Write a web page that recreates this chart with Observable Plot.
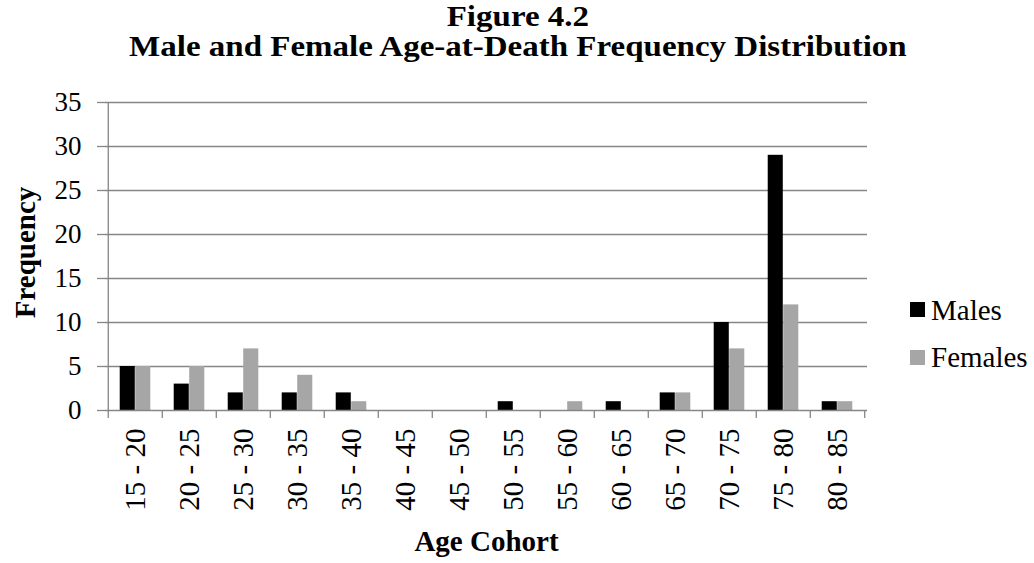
<!DOCTYPE html>
<html>
<head>
<meta charset="utf-8">
<script src="https://cdn.jsdelivr.net/npm/d3@7"></script>
<script src="https://cdn.jsdelivr.net/npm/@observablehq/plot@0.6"></script>
<style>
  body { margin: 0; background: #fff; }
  #wrap { position: relative; width: 1034px; height: 563px; font-family: "Liberation Serif", "Times New Roman", serif; }
  #wrap svg { position: absolute; left: 0; top: 0; }
  .title { position: absolute; left: 0; width: 1034px; text-align: center; font-weight: bold; font-size: 30px; line-height: 30px; color: #000; white-space: nowrap; transform: scaleX(1.1); transform-origin: 508px 0; }
  .legtxt { position: absolute; font-size: 29px; line-height: 29px; color: #000; white-space: nowrap; }
  .sw { position: absolute; width: 15px; height: 15px; }
</style>
</head>
<body>
<div id="wrap">
  <div class="title" style="top:1px">Figure 4.2</div>
  <div class="title" style="top:31px">Male and Female Age-at-Death Frequency Distribution</div>
  <div class="sw" style="left:910px; top:302px; background:#000"></div>
  <div class="legtxt" style="left:931px; top:296px">Males</div>
  <div class="sw" style="left:910px; top:350px; background:#a6a6a6"></div>
  <div class="legtxt" style="left:931px; top:343px">Females</div>
</div>
<script>
const categories = ["15 - 20","20 - 25","25 - 30","30 - 35","35 - 40","40 - 45","45 - 50","50 - 55","55 - 60","60 - 65","65 - 70","70 - 75","75 - 80","80 - 85"];
const males   = [5, 3, 2, 2, 2, 0, 0, 1, 0, 1, 2, 10, 29, 1];
const females = [5, 5, 7, 4, 1, 0, 0, 0, 1, 0, 2, 7, 12, 1];
const yTicks = [0, 5, 10, 15, 20, 25, 30, 35];
const seriesNames = ["Males", "Females"];
const seriesColors = ["#000000", "#a6a6a6"];

const W = 1034, H = 563;
const mL = 105, mR = 167, mT = 102, mB = 153;
const bw = (W - mL - mR) / categories.length;
const barW = 15.5;
const pad = (bw - 2 * barW) / 2;

const maleData = categories.map((c, i) => ({cat: c, value: males[i]}));
const femaleData = categories.map((c, i) => ({cat: c, value: females[i]}));
const grey = "#868686";

const chart = Plot.plot({
  width: W, height: H,
  marginLeft: mL, marginRight: mR, marginTop: mT, marginBottom: mB,
  style: {fontFamily: "Liberation Serif, Times New Roman, serif", fontSize: "27px", color: "#000", background: "transparent"},
  x: {type: "band", domain: categories, padding: 0, axis: null},
  y: {domain: [0, 35], axis: null},
  marks: [
    Plot.ruleY(yTicks.slice(1), {stroke: grey, strokeWidth: 1.3}),
    Plot.axisY({ticks: yTicks, tickSize: 8, tickPadding: 16, stroke: grey, strokeWidth: 1.3, fill: "#000", fontSize: 27, label: null, tickFormat: d => d}),
    Plot.barY(maleData, {x: "cat", y: "value", fill: seriesColors[0], insetLeft: pad, insetRight: bw - pad - barW}),
    Plot.barY(femaleData, {x: "cat", y: "value", fill: seriesColors[1], insetLeft: pad + barW, insetRight: pad}),
    Plot.ruleY([0], {stroke: grey, strokeWidth: 1.3}),
    Plot.ruleX([categories[0]], {y1: 0, y2: 35, dx: -bw / 2, stroke: grey, strokeWidth: 1.3}),
    Plot.axisX({ticks: categories, tickSize: 8, tickFormat: () => "", dx: -bw / 2, stroke: grey, strokeWidth: 1.3, label: null}),
    Plot.axisX({ticks: [categories[categories.length - 1]], tickSize: 8, tickFormat: () => "", dx: bw / 2, stroke: grey, strokeWidth: 1.3, label: null}),
    Plot.axisX({ticks: categories, tickSize: 0, tickPadding: 18, tickRotate: -90, fill: "#000", fontSize: 29, label: null}),
    Plot.text(["Frequency"], {frameAnchor: "left", textAnchor: "middle", dx: -80, dy: -4, rotate: -90, fontWeight: "bold", fontSize: 29, fill: "#000"}),
    Plot.text(["Age Cohort"], {frameAnchor: "bottom", dy: 140, fontWeight: "bold", fontSize: 29, fill: "#000"})
  ]
});
document.getElementById("wrap").prepend(chart);
</script>
</body>
</html>
